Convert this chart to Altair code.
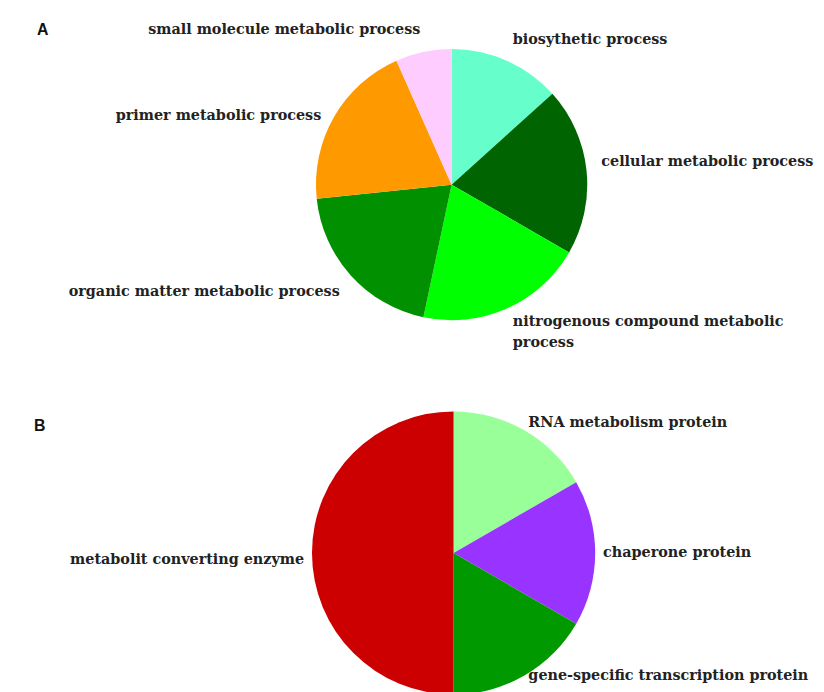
import math
import altair as alt
import pandas as pd

# ---- Panel A data ----
a_categories = [
    "biosythetic process",
    "cellular metabolic process",
    "nitrogenous compound metabolic process",
    "organic matter metabolic process",
    "primer metabolic process",
    "small molecule metabolic process",
]
a_labels = [
    "biosythetic process",
    "cellular metabolic process",
    "nitrogenous compound metabolic\nprocess",
    "organic matter metabolic process",
    "primer metabolic process",
    "small molecule metabolic process",
]
a_values = [2, 3, 3, 3, 3, 1]
a_colors = ["#66FFCC", "#006400", "#00FF00", "#009000", "#FF9900", "#FFCCFF"]

# ---- Panel B data ----
b_categories = [
    "RNA metabolism protein",
    "chaperone protein",
    "gene-specific transcription protein",
    "metabolit converting enzyme",
]
b_labels = list(b_categories)
b_values = [1, 1, 1, 3]
b_colors = ["#99FF99", "#9933FF", "#009900", "#CC0000"]

FONT = "DejaVu Serif"
TEXT_COLOR = "#222222"

theta_scale = alt.Scale(domain=[0, 1], range=[0, 2 * math.pi])
color_scale = alt.Scale(domain=a_categories + b_categories, range=a_colors + b_colors)


def pie(cats, labels, vals, cx, cy, r, label_gap, regions):
    df = pd.DataFrame({"category": cats, "label": labels, "value": vals})
    base = (
        alt.Chart(df)
        .transform_window(idx="row_number()")
        .transform_joinaggregate(total="sum(value)")
        .transform_window(cum="sum(value)", sort=[alt.SortField("idx")], frame=[None, 0])
        .transform_calculate(
            start="(datum.cum - datum.value) / datum.total",
            end="datum.cum / datum.total",
            mid="(datum.cum - datum.value / 2) / datum.total",
        )
    )
    arcs = base.mark_arc(outerRadius=r).encode(
        theta=alt.Theta("start:Q", scale=theta_scale),
        theta2=alt.Theta2("end:Q"),
        color=alt.Color("category:N", scale=color_scale, legend=None),
        x=alt.value(cx),
        y=alt.value(cy),
    )
    txt_kw = dict(
        radius=r + label_gap,
        font=FONT,
        fontWeight="bold",
        fontSize=14.5,
        lineBreak="\n",
        lineHeight=21,
        color=TEXT_COLOR,
    )
    enc = dict(
        theta=alt.Theta("mid:Q", scale=theta_scale),
        text="label:N",
        x=alt.value(cx),
        y=alt.value(cy),
    )
    out = [arcs]
    for expr, align, baseline in regions:
        out.append(
            base.transform_filter(expr)
            .mark_text(align=align, baseline=baseline, **txt_kw)
            .encode(**enc)
        )
    return out


regions_a = [
    ("datum.mid < 0.3", "left", "bottom"),
    ("datum.mid >= 0.3 && datum.mid < 0.5", "left", "middle"),
    ("datum.mid >= 0.5 && datum.mid < 0.9", "right", "top"),
    ("datum.mid >= 0.9", "right", "bottom"),
]
regions_b = [
    ("datum.mid < 0.3", "left", "middle"),
    ("datum.mid >= 0.3 && datum.mid < 0.5", "left", "bottom"),
    ("datum.mid >= 0.5", "right", "top"),
]

letter_kw = dict(font="Liberation Sans", fontWeight="bold", fontSize=16, color="#111111",
                 align="center", baseline="middle")
letter_a = alt.Chart(pd.DataFrame({"panel": ["A"]})).mark_text(**letter_kw).encode(
    text="panel:N", x=alt.value(35), y=alt.value(19)
)
letter_b = alt.Chart(pd.DataFrame({"panel": ["B"]})).mark_text(**letter_kw).encode(
    text="panel:N", x=alt.value(32), y=alt.value(419)
)

layers = (
    pie(a_categories, a_labels, a_values, 448, 175, 137, 15, regions_a)
    + pie(b_categories, b_labels, b_values, 450, 547, 143, 8, regions_b)
    + [letter_a, letter_b]
)

chart = (
    alt.layer(*layers)
    .properties(width=816, height=684, autosize=alt.AutoSizeParams(type="none"), padding=0)
    .configure_view(stroke=None)
)

chart.save("out.html", embed_options={"renderer": "svg", "actions": False})
